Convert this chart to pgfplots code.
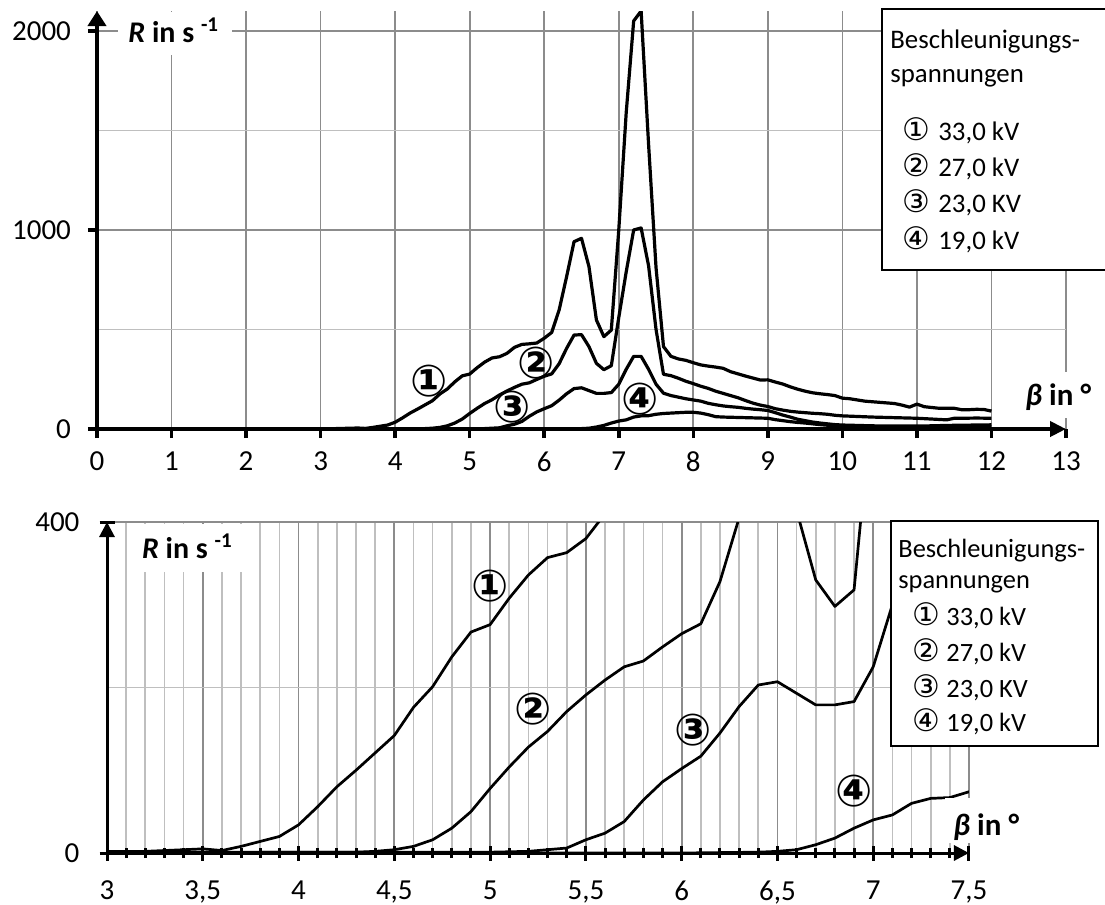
\documentclass[border=0pt]{standalone}
\usepackage{fontspec}
\setmainfont{Carlito}
\newfontfamily\circfont{DejaVu Sans}
\usepackage{pgfplots}
\usepackage{pgfplotstable}
\pgfplotsset{compat=1.18}
\usetikzlibrary{arrows.meta}

% counting rate R (1/s) over angle beta (deg), one table per voltage
\pgfplotstableread{
x R
2.5 1
2.6 1
2.7 1
2.8 1
2.9 1
3.0 2
3.1 2
3.2 2
3.3 3
3.4 4
3.5 5
3.6 3
3.7 8
3.8 14
3.9 20
4.0 34
4.1 56
4.2 80
4.3 100
4.4 121
4.5 142
4.6 176
4.7 201
4.8 237
4.9 267
5.0 276
5.1 308
5.2 336
5.3 357
5.4 363
5.5 380
5.6 410
5.7 425
5.8 428
5.9 432
6.0 456
6.1 485
6.2 598
6.3 765
6.4 941
6.5 958
6.6 816
6.7 548
6.8 464
6.9 497
7.0 1000
7.1 1590
7.2 2050
7.3 2100
7.4 1430
7.5 810
7.6 414
7.7 365
7.8 352
7.9 345
8.0 333
8.1 322
8.2 316
8.3 311
8.4 305
8.5 288
8.6 277
8.7 266
8.8 256
8.9 246
9.0 247
9.1 236
9.2 226
9.3 212
9.4 200
9.5 190
9.6 182
9.7 177
9.8 173
9.9 168
10.0 155
10.1 152
10.2 146
10.3 140
10.4 137
10.5 134
10.6 131
10.7 128
10.8 120
10.9 110
11.0 125
11.1 112
11.2 108
11.3 104
11.4 104
11.5 104
11.6 97
11.7 97
11.8 99
11.9 98
12.0 90
}\sone

\pgfplotstableread{
x R
2.5 0
3.0 1
3.5 1
4.0 1
4.3 1
4.4 2
4.5 4
4.6 8
4.7 16
4.8 30
4.9 50
5.0 78
5.1 104
5.2 128
5.3 147
5.4 171
5.5 191
5.6 209
5.7 225
5.8 232
5.9 249
6.0 265
6.1 277
6.2 328
6.3 405
6.4 472
6.5 474
6.6 414
6.7 330
6.8 298
6.9 318
7.0 560
7.1 790
7.2 1000
7.3 1010
7.4 820
7.5 500
7.6 275
7.7 268
7.8 255
7.9 240
8.0 228
8.1 215
8.2 204
8.3 190
8.4 179
8.5 168
8.6 157
8.7 143
8.8 130
8.9 120
9.0 113
9.1 102
9.2 95
9.3 89
9.4 85
9.5 82
9.6 79
9.7 77
9.8 74
9.9 69
10.0 66
10.2 63
10.4 60
10.6 58
10.8 56
11.0 54
11.2 50
11.4 46
11.5 54
11.6 54
11.8 55
12.0 54
}\stwo

\pgfplotstableread{
x R
2.5 0
3.0 0
4.0 1
5.0 1
5.2 2
5.3 4
5.4 6
5.5 16
5.6 24
5.7 38
5.8 64
5.9 86
6.0 102
6.1 117
6.2 145
6.3 177
6.4 203
6.5 207
6.6 193
6.7 179
6.8 179
6.9 183
7.0 225
7.1 300
7.2 365
7.3 365
7.4 300
7.5 225
7.6 180
7.7 168
7.8 160
7.9 152
8.0 146
8.1 140
8.2 129
8.3 122
8.4 116
8.5 112
8.6 109
8.7 104
8.8 100
8.9 97
9.0 93
9.1 82
9.2 70
9.3 60
9.4 49
9.5 42
9.6 35
9.7 30
9.8 26
9.9 22
10.0 20
10.2 18
10.4 16
10.6 15
10.8 15
11.0 15
11.2 16
11.4 18
11.6 19
11.8 20
12.0 21
}\sthree

\pgfplotstableread{
x R
2.5 0
4.0 0
5.0 0
6.0 0
6.4 1
6.5 2
6.6 4
6.7 10
6.8 18
6.9 30
7.0 40
7.1 46
7.2 60
7.3 66
7.4 67
7.5 74
7.6 78
7.7 80
7.8 82
7.9 84
8.0 84
8.1 80
8.2 72
8.3 62
8.4 60
8.5 59
8.6 58
8.7 57
8.8 56
8.9 55
9.0 54
9.1 47
9.2 42
9.3 37
9.4 33
9.5 30
9.6 26
9.7 22
9.8 19
9.9 17
10.0 15
10.5 11
11.0 9
11.5 10
12.0 13
}\sfour

\pgfplotsset{
  panel/.style={
    scale only axis, anchor=south west, axis lines=left, clip=true,
    grid=both,
    major grid style={black!45, line width=0.85pt},
    minor grid style={black!25, line width=0.85pt},
    every minor y tick/.append style={draw=none},
    tick style={black},
    ticklabel style={font=\fontsize{14.5}{16}\selectfont},
    /pgf/number format/assume math mode=true,
    /pgf/number format/1000 sep={},
  },
}
\newcommand{\cnum}[1]{{\circfont\bfseries\fontsize{22}{22}\selectfont #1}}
\newcommand{\lnum}[1]{{\circfont\fontsize{15.5}{15.5}\selectfont #1}}

\begin{document}
\begin{tikzpicture}
\path[use as bounding box] (0,0) rectangle (552.5pt,-452.5pt);

% ---------- upper panel: full range ----------
\begin{axis}[panel,
  at={(48.5pt,-214.5pt)}, width=484.5pt, height=209pt,
  xmin=0, xmax=13, ymin=0, ymax=2100,
  xtick={0,...,13}, ytick={0,1000,2000}, minor ytick={500,1500},
  x axis line style={line width=2pt, -{Triangle[length=8pt,width=7.5pt]}},
  y axis line style={line width=2pt, -{Triangle[length=7.5pt,width=9pt]}},
  tick align=outside, major tick length=4.5pt, minor tick length=0pt,
  tick style={line width=1.8pt},
  xticklabel style={yshift=-3.5pt},
  yticklabel style={xshift=-5pt},
]
\addplot[black, line width=1.6pt, line join=round] table[x=x,y=R]{\sone};
\addplot[black, line width=1.6pt, line join=round] table[x=x,y=R]{\stwo};
\addplot[black, line width=1.6pt, line join=round] table[x=x,y=R]{\sthree};
\addplot[black, line width=1.6pt, line join=round] table[x=x,y=R]{\sfour};
\node at (axis cs:4.46,241) {\cnum{①}};
\node at (axis cs:5.89,333) {\cnum{②}};
\node at (axis cs:5.57,109) {\cnum{③}};
\node at (axis cs:7.28,149) {\cnum{④}};
\end{axis}

% ---------- lower panel: zoomed ----------
\begin{axis}[panel,
  at={(53.5pt,-426.5pt)}, width=431pt, height=165.5pt,
  xmin=3, xmax=7.5, ymin=0, ymax=400,
  xtick={3,3.5,...,7.5}, minor x tick num=4,
  ytick={0,400}, minor ytick={200},
  x axis line style={line width=1.5pt, -{Triangle[length=7.5pt,width=7.5pt]}},
  y axis line style={line width=1.5pt, -{Triangle[length=7.5pt,width=7.5pt]}},
  tick align=center, major tick length=7.5pt, minor tick length=5pt,
  tick style={line width=1.5pt},
  /pgf/number format/use comma,
  xticklabel style={yshift=-6.5pt},
  yticklabel style={xshift=-6.5pt},
]
\addplot[black, line width=1.35pt, line join=round] table[x=x,y=R]{\sone};
\addplot[black, line width=1.35pt, line join=round] table[x=x,y=R]{\stwo};
\addplot[black, line width=1.35pt, line join=round] table[x=x,y=R]{\sthree};
\addplot[black, line width=1.35pt, line join=round] table[x=x,y=R]{\sfour};
\node at (axis cs:5.0,322) {\cnum{①}};
\node at (axis cs:5.226,174) {\cnum{②}};
\node at (axis cs:6.058,148) {\cnum{③}};
\node at (axis cs:6.90,75) {\cnum{④}};
\end{axis}

% axis titles with white backing
\fill[white] (59pt,-6pt) rectangle (116pt,-27.5pt);
\node[anchor=base west, inner sep=0pt, font=\fontsize{15}{17}\selectfont\bfseries]
  at (64pt,-21pt) {\textit{R} in s \textsuperscript{-1}};
\fill[white] (509pt,-186pt) rectangle (549pt,-209pt);
\node[anchor=base west, inner sep=0pt, font=\fontsize{15.5}{17}\selectfont\bfseries]
  at (512.5pt,-202.5pt) {\textit{β} in °};

\fill[white] (69pt,-262pt) rectangle (123pt,-286pt);
\node[anchor=base west, inner sep=0pt, font=\fontsize{15}{17}\selectfont\bfseries]
  at (70.8pt,-279pt) {\textit{R} in s \textsuperscript{-1}};
\fill[white] (472.5pt,-399pt) rectangle (513pt,-421.5pt);
\node[anchor=base west, inner sep=0pt, font=\fontsize{15.5}{17}\selectfont\bfseries]
  at (476.5pt,-417.5pt) {\textit{β} in °};

% legend boxes
\filldraw[fill=white, draw=black, line width=0.7pt] (441pt,-4.5pt) rectangle (560pt,-135pt);
\begin{scope}[every node/.style={anchor=base west, inner sep=0pt, font=\fontsize{13.4}{15}\selectfont}]
\node at (445pt,-24pt) {Beschleunigungs-};
\node at (445pt,-41pt) {spannungen};
\node at (451pt,-70pt) {\lnum{①}};   \node at (469pt,-70pt) {33,0 kV};
\node at (451pt,-88pt) {\lnum{②}};   \node at (469pt,-88pt) {27,0 kV};
\node at (451pt,-106.3pt) {\lnum{③}}; \node at (469pt,-106.3pt) {23,0 KV};
\node at (451pt,-124.7pt) {\lnum{④}}; \node at (469pt,-124.7pt) {19,0 kV};
\end{scope}

\filldraw[fill=white, draw=black, line width=0.7pt] (445.5pt,-260.5pt) rectangle (549pt,-373pt);
\begin{scope}[every node/.style={anchor=base west, inner sep=0pt, font=\fontsize{13.2}{15}\selectfont}]
\node at (449pt,-278.5pt) {Beschleunigungs-};
\node at (449pt,-294pt) {spannungen};
\node at (456pt,-312.5pt) {\lnum{①}}; \node at (473pt,-312.5pt) {33,0 kV};
\node at (456pt,-330.5pt) {\lnum{②}}; \node at (473pt,-330.5pt) {27,0 kV};
\node at (456pt,-348.8pt) {\lnum{③}}; \node at (473pt,-348.8pt) {23,0 KV};
\node at (456pt,-365.8pt) {\lnum{④}}; \node at (473pt,-365.8pt) {19,0 kV};
\end{scope}
\end{tikzpicture}
\end{document}
